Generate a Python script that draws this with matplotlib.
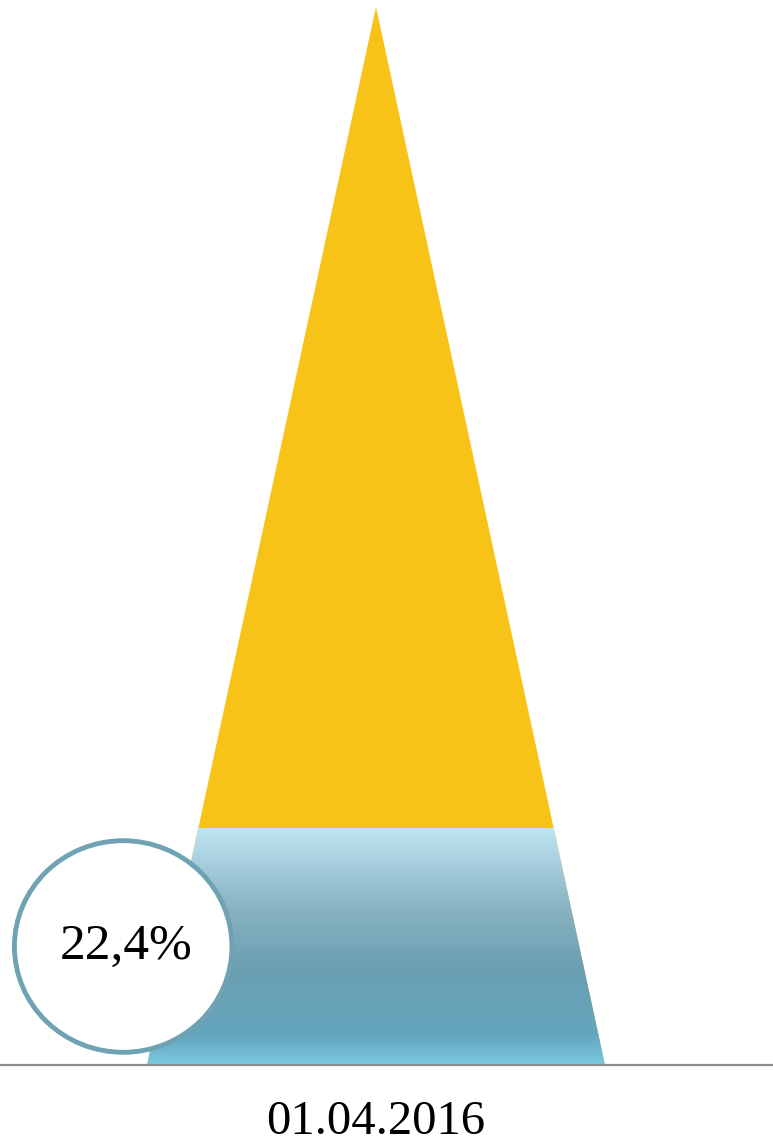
import matplotlib

matplotlib.use("Agg")
import matplotlib.pyplot as plt
import numpy as np
from matplotlib.colors import LinearSegmentedColormap
from matplotlib.patches import Ellipse, Polygon

# ── Data ─────────────────────────────────────────────────────────────
categories = ["01.04.2016"]
share_values = [22.4]  # percent, lower (blue) part of the pyramid
total_values = [100.0]
label_texts = ["22,4%"]

YELLOW = "#f8c318"
RING = "#6fa3b3"
blue_grad = LinearSegmentedColormap.from_list(
    "pyr_blue",
    [(0.0, "#bfe4f1"), (0.35, "#86b1c1"), (0.6, "#6a9fb1"),
     (0.88, "#64a6be"), (1.0, "#7ccae4")],
)

plt.rcParams["font.family"] = ["Liberation Serif", "DejaVu Serif"]

fig = plt.figure(figsize=(7.73, 11.41), dpi=100)
ax = fig.add_axes([0.0, 76 / 1141, 1.0, 1058 / 1141])

half_w = 0.5
for i, (cat, val, tot, lab) in enumerate(zip(categories, share_values, total_values, label_texts)):
    # whole pyramid in yellow
    ax.add_patch(Polygon([(i - half_w, 0), (i + half_w, 0), (i, tot)],
                         closed=True, facecolor=YELLOW, edgecolor="none", zorder=1))
    # lower share: trapezoid with vertical gradient
    w_top = half_w * (1 - val / tot)
    trap = Polygon([(i - half_w, 0), (i + half_w, 0), (i + w_top, val), (i - w_top, val)],
                   closed=True, facecolor="none", edgecolor="none")
    ax.add_patch(trap)
    grad = np.linspace(0, 1, 256).reshape(-1, 1)
    im = ax.imshow(grad, cmap=blue_grad, aspect="auto", origin="upper",
                   extent=(i - half_w, i + half_w, 0, val), zorder=2,
                   interpolation="bicubic")
    im.set_clip_path(trap)

    # value bubble
    ax.add_patch(Ellipse((i - 0.552, val / 2), 0.475, 20.0, facecolor="white",
                         edgecolor=RING, linewidth=3.5, zorder=3))
    ax.text(i - 0.546, val / 2, lab, ha="center", va="center",
            fontsize=37, color="black", zorder=4)

ax.set_xlim(-376 / 458, (773 - 376) / 458)
ax.set_ylim(0, 100)
ax.set_xticks(range(len(categories)))
ax.set_xticklabels(categories, fontsize=35)
ax.tick_params(axis="x", length=0, pad=25)
ax.set_yticks([])
for side in ("top", "left", "right"):
    ax.spines[side].set_visible(False)
ax.spines["bottom"].set_color("#8c8c8c")
ax.spines["bottom"].set_linewidth(1.6)
ax.patch.set_visible(False)

fig.savefig("out.png", dpi=100)
plt.close(fig)
